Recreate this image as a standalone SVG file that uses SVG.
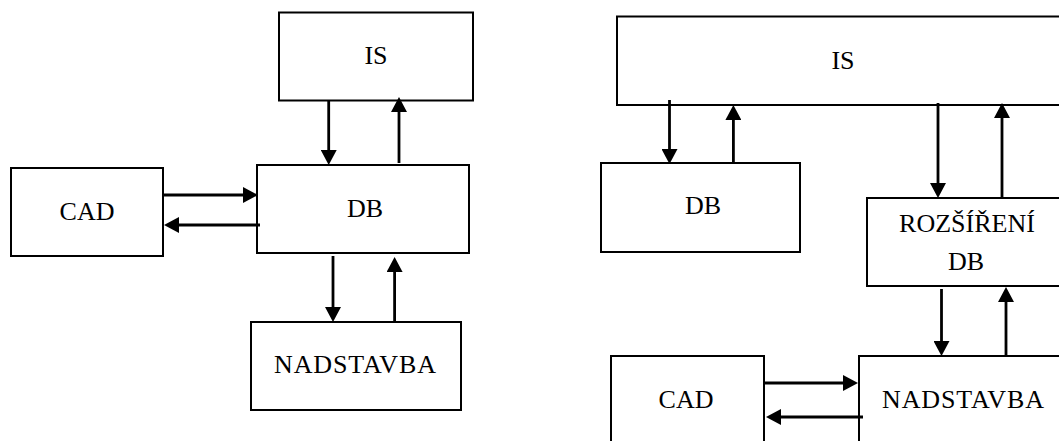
<svg xmlns="http://www.w3.org/2000/svg" width="1059" height="441" viewBox="0 0 1059 441">
<style>
.box{fill:#fff;stroke:#000;stroke-width:2}
.lbl{font-size:26px;fill:#000;text-anchor:middle}
.arr{stroke:#000;stroke-width:2.8;fill:none;marker-end:url(#ah)}
</style>
<defs>
<marker id="ah" markerUnits="userSpaceOnUse" markerWidth="15" markerHeight="16" refX="2" refY="8" orient="auto">
<path d="M0,0 L15,8 L0,16 Z" fill="#000"/>
</marker>
</defs>
<rect width="1059" height="441" fill="#fff"/>
<g font-family="'Liberation Serif', 'Times New Roman', serif">
<g id="left-IS"><rect class="box" x="279" y="12.5" width="194" height="88"/><text class="lbl" x="376" y="64">IS</text></g>
<g id="left-DB"><rect class="box" x="257" y="165" width="212" height="88"/><text class="lbl" x="365" y="217">DB</text></g>
<g id="left-CAD"><rect class="box" x="11" y="168" width="152" height="88"/><text class="lbl" x="87" y="220">CAD</text></g>
<g id="left-NADSTAVBA"><rect class="box" x="251" y="322" width="210" height="88"/><text class="lbl" x="355" y="373" textLength="162" lengthAdjust="spacing">NADSTAVBA</text></g>
<g id="right-IS"><rect class="box" x="617" y="16.5" width="460" height="88.5"/><text class="lbl" x="843" y="69">IS</text></g>
<g id="right-DB"><rect class="box" x="601" y="163" width="199" height="89"/><text class="lbl" x="703" y="214">DB</text></g>
<g id="right-ROZ"><rect class="box" x="867" y="198" width="210" height="88"/><text class="lbl" x="967" y="232">ROZŠÍŘENÍ</text><text class="lbl" x="966" y="270">DB</text></g>
<g id="right-CAD"><rect class="box" x="611" y="356" width="153" height="100"/><text class="lbl" x="686" y="408">CAD</text></g>
<g id="right-NADSTAVBA"><rect class="box" x="859" y="356" width="220" height="100"/><text class="lbl" x="963" y="408" textLength="162" lengthAdjust="spacing">NADSTAVBA</text></g>
</g>
<g id="connectors">
<line class="arr" x1="328.7" y1="100" x2="328.7" y2="152"/>
<line class="arr" x1="399" y1="163" x2="399" y2="110"/>
<line class="arr" x1="163" y1="195" x2="245" y2="195"/>
<line class="arr" x1="260" y1="225" x2="177" y2="225"/>
<line class="arr" x1="333" y1="256" x2="333" y2="309"/>
<line class="arr" x1="394.6" y1="323" x2="394.6" y2="270"/>
<line class="arr" x1="669.5" y1="100" x2="669.5" y2="151"/>
<line class="arr" x1="733.4" y1="163" x2="733.4" y2="118"/>
<line class="arr" x1="938" y1="103" x2="938" y2="185"/>
<line class="arr" x1="1002" y1="198" x2="1002" y2="116"/>
<line class="arr" x1="941.5" y1="289" x2="941.5" y2="343"/>
<line class="arr" x1="1006" y1="356" x2="1006" y2="300"/>
<line class="arr" x1="764" y1="383" x2="845" y2="383"/>
<line class="arr" x1="863" y1="417" x2="779" y2="417"/>
</g>
</svg>
